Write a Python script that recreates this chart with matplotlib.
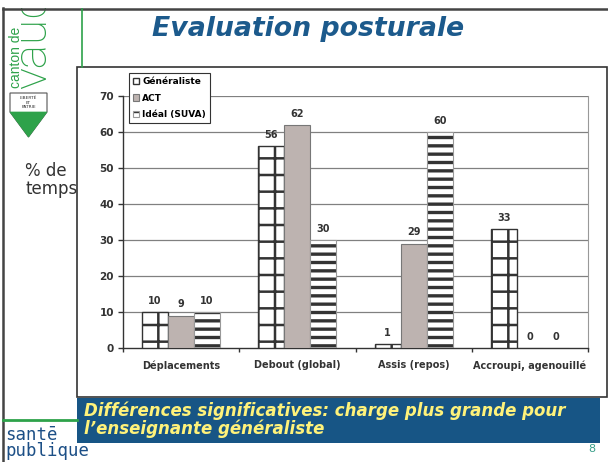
import matplotlib
matplotlib.use("Agg")
import matplotlib.pyplot as plt
import numpy as np
from matplotlib.patches import Rectangle, Polygon

categories = ['Déplacements', 'Debout (global)', 'Assis (repos)', 'Accroupi, agenouillé']
series_names = ['Généraliste', 'ACT', 'Idéal (SUVA)']
generaliste = [10, 56, 1, 33]
act = [9, 62, 29, 0]
ideal = [10, 30, 60, 0]
yticks = [0, 10, 20, 30, 40, 50, 60, 70]

W, H = 608, 462
plt.rcParams['font.family'] = ['DejaVu Sans']
fig = plt.figure(figsize=(W / 100, H / 100), dpi=100)
fig.patch.set_facecolor('white')

bg = fig.add_axes([0, 0, 1, 1], zorder=0)
bg.set_xlim(0, W)
bg.set_ylim(H, 0)
bg.axis('off')

green = '#2EA24A'
blue = '#175585'

# "% de temps" (partly under chart box)
bg.text(25, 180, '% de\ntemps', fontsize=12, color='#333333', va='center', ha='left',
        linespacing=1.0, zorder=1)
# chart box
bg.add_patch(Rectangle((77, 67), 530, 330, facecolor='white', edgecolor='#333333', lw=1.2, zorder=2))

# logo
bg.text(20, 88, 'canton de', rotation=90, rotation_mode='anchor', fontsize=10, color=green,
        ha='left', va='baseline', family=['Liberation Sans', 'DejaVu Sans'], zorder=3)
bg.text(46, 89, 'vaud', rotation=90, rotation_mode='anchor', fontsize=33, color=green,
        ha='left', va='baseline', family=['Roboto', 'DejaVu Sans'], fontweight='light', zorder=3)
bg.add_patch(Rectangle((0, 0), W, 8, facecolor='white', edgecolor='none', zorder=3.5))
bg.add_patch(Polygon([[10, 93], [47, 93], [47, 112], [28.5, 137], [10, 112]], closed=True,
                     facecolor='white', edgecolor='#555555', lw=0.8, zorder=3))
bg.add_patch(Polygon([[10, 112], [47, 112], [28.5, 137]], closed=True,
                     facecolor=green, edgecolor=green, lw=0.5, zorder=3))
bg.text(28.5, 98, 'LIBERTÉ', fontsize=3.2, ha='center', va='center', color='#333333', zorder=4)
bg.text(28.5, 102.5, 'ET', fontsize=3.0, ha='center', va='center', color='#333333', zorder=4)
bg.text(28.5, 107, 'PATRIE', fontsize=3.2, ha='center', va='center', color='#333333', zorder=4)

# frame lines
bg.plot([3, W], [8.5, 8.5], color='#444444', lw=1.8, zorder=4)
bg.plot([3, 3], [8, H], color='#444444', lw=1.8, zorder=4)
bg.plot([82, 82], [9, 67], color=green, lw=1.2, zorder=4)
bg.plot([3, 77], [420, 420], color=green, lw=2.0, zorder=4)

# title
bg.text(308, 29, 'Evaluation posturale', fontsize=19.3, fontweight='bold', fontstyle='italic',
        color='#1C5A8C', ha='center', va='center', zorder=3)

# bottom box
bg.add_patch(Rectangle((77, 398), 523, 45, facecolor=blue, edgecolor='none', zorder=3))
bg.text(84, 420, 'Différences significatives: charge plus grande pour\nl\u2019enseignante généraliste',
        fontsize=12, fontweight='bold', fontstyle='italic', color='#FFF27A',
        ha='left', va='center', linespacing=1.0, zorder=4)
bg.text(5, 435, 'santē', fontsize=12.5, color='#1C4F86', family='DejaVu Sans Mono', ha='left', va='center', zorder=4)
bg.text(5, 451, 'publique', fontsize=12.5, color='#1C4F86', family='DejaVu Sans Mono', ha='left', va='center', zorder=4)
bg.text(592, 449, '8', fontsize=8, color='#3AA08A', ha='center', va='center', zorder=4)

# chart axes
ax = fig.add_axes([123 / W, 1 - 348 / H, (588 - 123) / W, (348 - 96) / H], zorder=1)
ax.set_facecolor('white')
x = np.arange(len(categories))
bw = 0.224
with plt.rc_context({'hatch.linewidth': 1.8, 'hatch.color': '#333333'}):
    b1 = ax.bar(x - bw, generaliste, bw, facecolor='white', edgecolor='#333333', hatch='+', lw=1.0,
                zorder=3, label=series_names[0])
b2 = ax.bar(x, act, bw, facecolor='#BDB3B0', edgecolor='#777777', lw=0.8, zorder=3, label=series_names[1])
with plt.rc_context({'hatch.linewidth': 2.4, 'hatch.color': '#333333'}):
    b3 = ax.bar(x + bw, ideal, bw, facecolor='white', edgecolor='#999999', hatch='--', lw=0.8,
                zorder=3, label=series_names[2])
for bars in (b1, b3):
    for b in bars:
        b._hatch_color = matplotlib.colors.to_rgba('#333333')
for bars, vals in ((b1, generaliste), (b2, act), (b3, ideal)):
    for b, v in zip(bars, vals):
        ax.annotate(f'{v}', (b.get_x() + b.get_width() / 2, v), xytext=(0, 4.5),
                    textcoords='offset points', ha='center', va='bottom',
                    fontsize=7, fontweight='bold', color='#333333')

ax.set_xlim(-0.5, len(categories) - 0.5)
ax.set_ylim(0, 70)
ax.set_yticks(yticks)
ax.set_yticklabels([str(v) for v in yticks], fontsize=7.5, fontweight='bold', color='#333333')
ax.set_xticks(x)
ax.set_xticklabels(categories, fontsize=7, fontweight='bold', color='#333333')
ax.set_xticks(np.arange(len(categories) + 1) - 0.5, minor=True)
ax.tick_params(axis='x', which='major', length=0, pad=9)
ax.tick_params(axis='x', which='minor', length=3, width=1, color='#333333', direction='out')
ax.tick_params(axis='y', length=3.6, width=1, color='#333333', pad=3)
for yv in yticks[1:]:
    ax.axhline(yv, color='#808080', lw=0.9, zorder=1)
ax.spines['top'].set_visible(False)
ax.spines['left'].set_color('#333333')
ax.spines['bottom'].set_color('#333333')
ax.spines['right'].set_color('#999999')
ax.spines['left'].set_linewidth(1.0)
ax.spines['bottom'].set_linewidth(1.0)

leg = fig.legend(handles=[b1, b2, b3], labels=series_names, loc='upper left',
                 bbox_to_anchor=(129 / W, 1 - 73 / H), prop={'weight': 'bold', 'size': 6.5},
                 frameon=True, fancybox=False, edgecolor='#333333', framealpha=1,
                 handlelength=0.7, handleheight=0.7, handletextpad=0.3, labelspacing=0.85,
                 borderpad=0.45, borderaxespad=0)
leg.get_frame().set_linewidth(0.8)
leg.set_zorder(5)

fig.savefig('out.png', dpi=100, facecolor='white')
